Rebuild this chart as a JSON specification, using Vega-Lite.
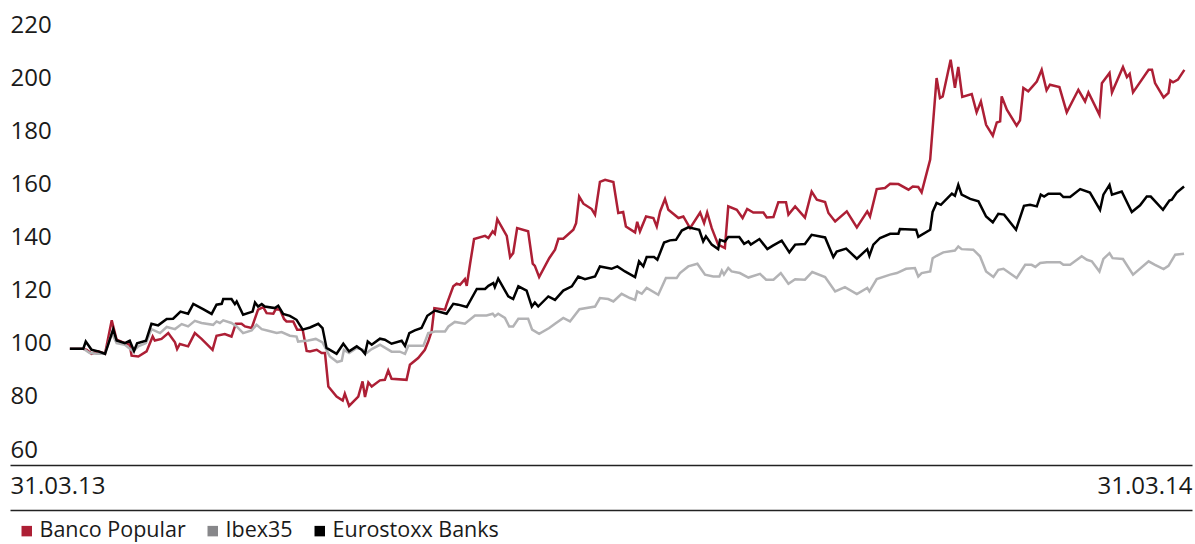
{
"$schema": "https://vega.github.io/schema/vega-lite/v6.json",
"width": 1182, "height": 425,
"autosize": "none",
"padding": {"left": 10, "top": 30, "right": 3, "bottom": 89},
"config": {"view": {"stroke": null}, "font": "Open Sans"},
"datasets": {
"bp": [{"day":0,"value":100},{"day":4.4,"value":100},{"day":5.5,"value":99.6},{"day":7.1,"value":98.1},{"day":9.3,"value":99.0},{"day":11.5,"value":98.1},{"day":13.7,"value":110.7},{"day":15.3,"value":103.4},{"day":18.0,"value":102.1},{"day":19.6,"value":101.5},{"day":20.2,"value":97.4},{"day":22.4,"value":97.1},{"day":25.1,"value":99.0},{"day":27.1,"value":104.6},{"day":27.8,"value":103.1},{"day":30.0,"value":103.7},{"day":32.2,"value":105.9},{"day":34.4,"value":102.4},{"day":35.1,"value":99.9},{"day":36.0,"value":101.8},{"day":38.7,"value":100.9},{"day":40.9,"value":105.9},{"day":43.1,"value":103.7},{"day":46.7,"value":99.6},{"day":48.0,"value":104.9},{"day":50.7,"value":105.5},{"day":52.9,"value":104.6},{"day":54.3,"value":109.4},{"day":56.2,"value":109.4},{"day":57.3,"value":108.4},{"day":59.5,"value":107.8},{"day":61.6,"value":114.7},{"day":63.3,"value":115.7},{"day":64.4,"value":113.4},{"day":66.6,"value":113.2},{"day":67.4,"value":114.9},{"day":68.8,"value":114.7},{"day":70.1,"value":111.2},{"day":70.9,"value":110.3},{"day":73.1,"value":110.3},{"day":74.4,"value":107.2},{"day":76.2,"value":107.2},{"day":77.5,"value":99.2},{"day":78.6,"value":99.0},{"day":80.8,"value":99.6},{"day":82.4,"value":98.4},{"day":83.5,"value":98.4},{"day":84.6,"value":85.8},{"day":87.3,"value":82.0},{"day":89.3,"value":80.5},{"day":90.0,"value":83.1},{"day":91.4,"value":78.5},{"day":94.4,"value":82.0},{"day":95.8,"value":87.7},{"day":96.6,"value":81.8},{"day":97.7,"value":87.3},{"day":98.8,"value":85.8},{"day":101.5,"value":88.1},{"day":103.1,"value":88.3},{"day":104.2,"value":91.8},{"day":105.3,"value":88.7},{"day":110.2,"value":88.3},{"day":111.3,"value":94.0},{"day":114.0,"value":96.5},{"day":116.2,"value":99.6},{"day":117.3,"value":102.7},{"day":118.4,"value":106.5},{"day":119.3,"value":115.3},{"day":122.8,"value":114.7},{"day":123.3,"value":116.6},{"day":125.5,"value":123.5},{"day":126.6,"value":124.5},{"day":127.7,"value":124.1},{"day":129.3,"value":126.2},{"day":129.9,"value":123.7},{"day":131.0,"value":132.0},{"day":132.3,"value":141.3},{"day":135.9,"value":142.5},{"day":137.0,"value":141.7},{"day":138.4,"value":144.2},{"day":139.1,"value":143.3},{"day":139.9,"value":148.8},{"day":143.0,"value":142.5},{"day":144.1,"value":134.5},{"day":145.1,"value":136.0},{"day":146.4,"value":145.4},{"day":150.0,"value":144.2},{"day":151.5,"value":132.0},{"day":152.2,"value":131.2},{"day":153.6,"value":127.0},{"day":156.9,"value":134.1},{"day":158.8,"value":137.3},{"day":159.9,"value":141.4},{"day":161.5,"value":141.4},{"day":164.8,"value":144.8},{"day":165.7,"value":147.3},{"day":166.7,"value":157.3},{"day":168.1,"value":154.6},{"day":170.8,"value":152.6},{"day":171.9,"value":150.5},{"day":173.5,"value":162.8},{"day":175.2,"value":163.6},{"day":177.9,"value":162.8},{"day":179.5,"value":151.1},{"day":181.1,"value":151.5},{"day":182.0,"value":146.0},{"day":185.0,"value":143.8},{"day":185.7,"value":147.8},{"day":186.6,"value":144.2},{"day":188.6,"value":149.8},{"day":191.0,"value":149.2},{"day":192.1,"value":146.0},{"day":193.2,"value":151.7},{"day":194.8,"value":156.4},{"day":195.9,"value":152.3},{"day":199.2,"value":149.2},{"day":200.8,"value":149.8},{"day":203.0,"value":145.4},{"day":206.3,"value":151.3},{"day":207.6,"value":147.3},{"day":208.6,"value":151.3},{"day":210.1,"value":145.4},{"day":212.2,"value":139.2},{"day":214.4,"value":137.9},{"day":215.5,"value":153.6},{"day":218.3,"value":152.3},{"day":220.2,"value":149.2},{"day":221.7,"value":152.6},{"day":223.7,"value":151.3},{"day":227.0,"value":151.3},{"day":228.1,"value":149.4},{"day":230.3,"value":149.6},{"day":231.9,"value":155.2},{"day":234.4,"value":155.2},{"day":235.2,"value":150.5},{"day":237.4,"value":153.6},{"day":240.6,"value":149.4},{"day":242.8,"value":159.2},{"day":244.5,"value":156.1},{"day":247.2,"value":155.2},{"day":248.3,"value":151.1},{"day":250.5,"value":147.9},{"day":254.3,"value":151.7},{"day":257.6,"value":145.7},{"day":261.0,"value":151.7},{"day":261.9,"value":149.8},{"day":264.1,"value":160.1},{"day":266.8,"value":160.5},{"day":268.5,"value":162.1},{"day":271.2,"value":162.0},{"day":274.5,"value":159.9},{"day":275.9,"value":161.1},{"day":277.7,"value":160.9},{"day":278.8,"value":158.9},{"day":281.6,"value":171.2},{"day":283.7,"value":201.9},{"day":284.8,"value":194.4},{"day":285.7,"value":195.0},{"day":288.3,"value":208.8},{"day":289.7,"value":198.2},{"day":290.8,"value":206.1},{"day":292.1,"value":194.8},{"day":295.2,"value":195.9},{"day":296.8,"value":189.0},{"day":298.2,"value":193.1},{"day":299.9,"value":184.3},{"day":302.1,"value":180.2},{"day":303.4,"value":185.2},{"day":304.5,"value":185.6},{"day":305.0,"value":195.0},{"day":306.7,"value":190.0},{"day":309.9,"value":184.0},{"day":311.0,"value":186.0},{"day":312.1,"value":198.2},{"day":313.7,"value":196.9},{"day":316.5,"value":200.6},{"day":318.1,"value":205.0},{"day":319.7,"value":197.3},{"day":320.8,"value":199.4},{"day":323.9,"value":198.5},{"day":326.3,"value":189.0},{"day":330.1,"value":197.5},{"day":332.3,"value":193.1},{"day":333.4,"value":196.5},{"day":337.0,"value":188.1},{"day":337.8,"value":200.0},{"day":340.3,"value":203.8},{"day":341.1,"value":196.5},{"day":344.7,"value":206.1},{"day":346.0,"value":202.3},{"day":346.9,"value":203.5},{"day":348.0,"value":196.5},{"day":353.1,"value":205.0},{"day":354.2,"value":205.0},{"day":355.2,"value":200.0},{"day":358.0,"value":194.6},{"day":359.6,"value":196.3},{"day":360.2,"value":201.0},{"day":361.1,"value":200.3},{"day":362.7,"value":201.3},{"day":364.8,"value":205.0}],
"ibex": [{"day":0,"value":100},{"day":4.4,"value":100},{"day":6.5,"value":98.4},{"day":8.7,"value":98.1},{"day":11.5,"value":98.1},{"day":13.7,"value":105.9},{"day":15.3,"value":102.1},{"day":18.0,"value":101.5},{"day":20.7,"value":99.0},{"day":22.4,"value":100.9},{"day":24.9,"value":102.1},{"day":26.7,"value":107.4},{"day":29.5,"value":105.9},{"day":31.7,"value":108.2},{"day":34.4,"value":107.4},{"day":36.6,"value":109.3},{"day":38.7,"value":108.4},{"day":40.9,"value":110.5},{"day":43.1,"value":109.7},{"day":46.9,"value":109.0},{"day":48.0,"value":110.3},{"day":49.1,"value":109.7},{"day":50.2,"value":110.7},{"day":52.9,"value":109.7},{"day":54.6,"value":108.4},{"day":56.7,"value":105.9},{"day":59.5,"value":106.9},{"day":61.1,"value":109.0},{"day":62.8,"value":107.4},{"day":64.9,"value":106.8},{"day":67.7,"value":105.9},{"day":69.3,"value":106.3},{"day":72.0,"value":104.9},{"day":74.2,"value":104.6},{"day":74.7,"value":102.7},{"day":78.0,"value":103.1},{"day":80.5,"value":103.7},{"day":82.7,"value":102.4},{"day":85.1,"value":97.1},{"day":87.5,"value":95.0},{"day":89.0,"value":95.5},{"day":89.7,"value":99.6},{"day":91.4,"value":98.4},{"day":93.9,"value":100.3},{"day":96.0,"value":99.6},{"day":97.1,"value":98.4},{"day":98.8,"value":99.9},{"day":101.5,"value":101.5},{"day":105.3,"value":98.9},{"day":108.0,"value":98.9},{"day":109.7,"value":98.1},{"day":110.8,"value":101.1},{"day":115.7,"value":101.1},{"day":117.3,"value":105.9},{"day":119.5,"value":106.5},{"day":122.8,"value":106.5},{"day":123.9,"value":108.4},{"day":126.0,"value":110.1},{"day":129.3,"value":109.4},{"day":132.6,"value":112.5},{"day":136.4,"value":112.5},{"day":138.4,"value":113.2},{"day":139.1,"value":112.2},{"day":140.2,"value":113.2},{"day":142.4,"value":111.6},{"day":143.8,"value":108.4},{"day":145.1,"value":108.4},{"day":146.8,"value":111.3},{"day":150.0,"value":111.3},{"day":151.3,"value":107.2},{"day":153.6,"value":105.6},{"day":156.9,"value":107.8},{"day":158.8,"value":109.4},{"day":161.5,"value":111.6},{"day":163.7,"value":110.3},{"day":166.8,"value":114.9},{"day":171.9,"value":115.9},{"day":173.5,"value":119.1},{"day":176.2,"value":118.7},{"day":177.9,"value":117.8},{"day":180.6,"value":120.7},{"day":183.3,"value":119.1},{"day":185.0,"value":118.4},{"day":185.7,"value":121.6},{"day":187.2,"value":120.7},{"day":188.8,"value":122.9},{"day":192.6,"value":120.3},{"day":195.1,"value":126.6},{"day":198.6,"value":126.6},{"day":199.7,"value":128.5},{"day":202.4,"value":131.0},{"day":205.4,"value":132.0},{"day":207.9,"value":127.9},{"day":210.6,"value":127.2},{"day":212.6,"value":127.2},{"day":213.4,"value":129.4},{"day":214.1,"value":127.9},{"day":215.5,"value":130.4},{"day":216.6,"value":129.1},{"day":219.3,"value":128.5},{"day":222.1,"value":126.8},{"day":225.9,"value":128.2},{"day":227.9,"value":126.0},{"day":230.3,"value":126.0},{"day":232.7,"value":128.5},{"day":235.2,"value":124.5},{"day":237.4,"value":126.2},{"day":240.6,"value":126.0},{"day":243.0,"value":128.9},{"day":247.2,"value":127.0},{"day":250.5,"value":121.6},{"day":253.7,"value":123.2},{"day":257.6,"value":120.6},{"day":261.0,"value":122.9},{"day":261.7,"value":121.6},{"day":264.1,"value":126.2},{"day":268.5,"value":127.9},{"day":270.7,"value":128.5},{"day":273.7,"value":130.1},{"day":276.6,"value":130.4},{"day":277.7,"value":127.2},{"day":278.8,"value":128.5},{"day":281.6,"value":129.1},{"day":282.4,"value":134.1},{"day":283.7,"value":135.0},{"day":285.9,"value":136.3},{"day":289.7,"value":137.0},{"day":290.8,"value":138.5},{"day":291.9,"value":137.5},{"day":295.7,"value":137.3},{"day":297.9,"value":134.8},{"day":299.9,"value":129.1},{"day":302.3,"value":127.0},{"day":303.9,"value":129.7},{"day":305.6,"value":130.1},{"day":309.9,"value":126.6},{"day":312.7,"value":131.6},{"day":314.8,"value":131.6},{"day":316.0,"value":130.8},{"day":317.6,"value":132.3},{"day":319.8,"value":132.6},{"day":324.1,"value":132.6},{"day":325.2,"value":131.6},{"day":327.4,"value":131.6},{"day":331.2,"value":134.8},{"day":332.9,"value":133.5},{"day":334.5,"value":132.9},{"day":337.0,"value":129.1},{"day":338.3,"value":133.8},{"day":340.3,"value":136.0},{"day":341.3,"value":134.1},{"day":344.7,"value":133.8},{"day":348.0,"value":127.9},{"day":353.1,"value":132.9},{"day":355.2,"value":131.6},{"day":358.0,"value":130.0},{"day":359.6,"value":131.2},{"day":361.8,"value":135.4},{"day":364.7,"value":135.8}],
"euro": [{"day":0,"value":100},{"day":4.4,"value":100},{"day":5.2,"value":102.7},{"day":7.1,"value":99.6},{"day":9.3,"value":99.0},{"day":11.5,"value":98.1},{"day":14.2,"value":107.4},{"day":15.3,"value":103.1},{"day":18.0,"value":102.1},{"day":19.6,"value":103.0},{"day":21.0,"value":99.2},{"day":22.0,"value":102.1},{"day":24.9,"value":103.0},{"day":26.7,"value":109.4},{"day":28.9,"value":108.8},{"day":31.7,"value":111.2},{"day":33.8,"value":111.3},{"day":36.2,"value":114.0},{"day":38.7,"value":113.2},{"day":40.4,"value":116.9},{"day":43.6,"value":114.9},{"day":46.4,"value":113.1},{"day":48.0,"value":116.6},{"day":49.7,"value":116.9},{"day":50.2,"value":118.7},{"day":52.9,"value":118.7},{"day":54.0,"value":116.8},{"day":54.6,"value":117.8},{"day":56.7,"value":112.8},{"day":59.8,"value":114.0},{"day":60.6,"value":117.4},{"day":61.6,"value":115.9},{"day":62.8,"value":116.8},{"day":63.8,"value":115.9},{"day":67.1,"value":115.3},{"day":68.2,"value":116.2},{"day":69.8,"value":113.1},{"day":72.0,"value":112.4},{"day":74.2,"value":110.9},{"day":76.2,"value":107.2},{"day":78.6,"value":108.0},{"day":81.3,"value":109.4},{"day":82.7,"value":107.8},{"day":84.0,"value":100.3},{"day":87.3,"value":98.1},{"day":89.5,"value":101.9},{"day":91.4,"value":99.0},{"day":93.9,"value":100.9},{"day":95.5,"value":99.6},{"day":96.6,"value":98.1},{"day":97.5,"value":102.7},{"day":98.8,"value":101.5},{"day":101.5,"value":103.8},{"day":103.1,"value":103.4},{"day":105.3,"value":101.9},{"day":108.6,"value":103.0},{"day":109.7,"value":101.1},{"day":111.1,"value":105.9},{"day":112.9,"value":106.9},{"day":115.1,"value":107.8},{"day":117.0,"value":112.4},{"day":119.5,"value":114.4},{"day":123.3,"value":113.2},{"day":125.5,"value":116.9},{"day":127.1,"value":116.6},{"day":129.9,"value":115.7},{"day":133.2,"value":122.5},{"day":135.9,"value":122.5},{"day":137.0,"value":123.7},{"day":138.6,"value":124.7},{"day":139.1,"value":123.2},{"day":140.2,"value":126.4},{"day":143.5,"value":119.7},{"day":145.1,"value":118.7},{"day":146.8,"value":123.5},{"day":149.5,"value":121.9},{"day":151.2,"value":115.9},{"day":152.2,"value":117.4},{"day":153.3,"value":115.9},{"day":156.6,"value":119.7},{"day":158.8,"value":118.4},{"day":161.5,"value":121.9},{"day":164.3,"value":123.5},{"day":166.4,"value":127.2},{"day":168.6,"value":126.2},{"day":171.9,"value":127.2},{"day":173.5,"value":131.0},{"day":177.3,"value":130.1},{"day":179.2,"value":131.0},{"day":181.7,"value":129.1},{"day":185.0,"value":127.0},{"day":186.3,"value":132.9},{"day":187.7,"value":131.0},{"day":188.8,"value":134.5},{"day":191.2,"value":134.5},{"day":192.3,"value":133.5},{"day":194.5,"value":140.0},{"day":196.4,"value":140.8},{"day":198.4,"value":141.0},{"day":200.3,"value":144.5},{"day":202.4,"value":145.7},{"day":206.0,"value":144.8},{"day":207.3,"value":140.4},{"day":208.2,"value":142.3},{"day":210.1,"value":139.2},{"day":212.2,"value":137.5},{"day":212.8,"value":141.0},{"day":214.4,"value":140.4},{"day":215.5,"value":142.1},{"day":219.1,"value":142.1},{"day":220.7,"value":139.5},{"day":222.1,"value":140.4},{"day":222.9,"value":139.2},{"day":225.7,"value":141.3},{"day":228.3,"value":137.5},{"day":230.1,"value":138.8},{"day":233.0,"value":140.7},{"day":235.5,"value":136.3},{"day":237.4,"value":139.2},{"day":240.6,"value":139.4},{"day":242.8,"value":142.9},{"day":247.2,"value":141.9},{"day":249.9,"value":134.5},{"day":251.0,"value":136.6},{"day":254.1,"value":137.7},{"day":257.6,"value":133.9},{"day":261.0,"value":137.5},{"day":261.7,"value":135.0},{"day":263.0,"value":139.2},{"day":265.2,"value":141.7},{"day":268.5,"value":143.3},{"day":271.2,"value":143.3},{"day":271.7,"value":145.1},{"day":277.0,"value":144.8},{"day":277.7,"value":142.1},{"day":281.6,"value":144.8},{"day":282.4,"value":151.5},{"day":283.7,"value":154.9},{"day":285.1,"value":154.2},{"day":288.7,"value":158.4},{"day":289.7,"value":157.6},{"day":290.8,"value":161.7},{"day":291.9,"value":158.0},{"day":294.7,"value":156.4},{"day":297.4,"value":155.5},{"day":299.9,"value":149.8},{"day":302.1,"value":147.6},{"day":303.9,"value":150.8},{"day":305.8,"value":150.5},{"day":309.7,"value":144.8},{"day":312.3,"value":153.8},{"day":314.3,"value":154.2},{"day":316.5,"value":153.6},{"day":317.8,"value":158.0},{"day":318.9,"value":157.3},{"day":320.3,"value":158.4},{"day":324.1,"value":158.4},{"day":325.2,"value":157.1},{"day":327.4,"value":157.1},{"day":330.7,"value":160.1},{"day":333.9,"value":158.8},{"day":337.2,"value":152.3},{"day":338.3,"value":158.0},{"day":340.3,"value":161.7},{"day":341.1,"value":158.0},{"day":344.3,"value":159.2},{"day":347.6,"value":151.5},{"day":350.3,"value":154.0},{"day":352.5,"value":157.3},{"day":353.8,"value":157.3},{"day":357.8,"value":152.3},{"day":359.9,"value":155.8},{"day":360.7,"value":156.1},{"day":362.3,"value":158.8},{"day":364.7,"value":161.1}]
},
"encoding": {
  "x": {"field": "day", "type": "quantitative",
        "scale": {"domain": [-19.6, 367.3], "nice": false, "zero": false},
        "axis": null},
  "y": {"field": "value", "type": "quantitative",
        "scale": {"domain": [60, 220], "nice": false, "zero": false},
        "axis": {"orient": "left", "values": [60, 80, 100, 120, 140, 160, 180, 200, 220], "labelAlign": "left", "labelBaseline": "middle", "labelPadding": 0, "labelOffset": -5, "labelFlush": false, "ticks": false, "tickSize": 0, "domain": false, "grid": false, "title": null, "labelFont": "Open Sans", "labelFontSize": 24, "labelColor": "#1a1a1a"}},
  "color": {"datum": "Banco Popular", "type": "nominal",
        "scale": {"domain": ["Banco Popular", "Ibex35", "Eurostoxx Banks"], "range": ["#ad1f35", "#b3b3b5", "#000000"]},
        "legend": {"orient": "none", "legendX": 6, "legendY": 490, "direction": "horizontal", "title": null,
                   "symbolType": "square", "symbolSize": 110, "symbolStrokeWidth": 0,
                   "labelFont": "Open Sans", "labelFontSize": 21.5, "labelColor": "#1a1a1a", "labelOffset": 2, "labelLimit": 600, "columnPadding": 16,
                   "encode": {"symbols": {"update": {"fill": {"signal": "datum.value === 'Ibex35' ? '#87878a' : scale('color', datum.value)"}, "stroke": {"value": "transparent"}, "strokeWidth": {"value": 0}}}}}}
},
"layer": [
  {"data": {"name": "bp"}, "mark": {"type": "line", "strokeWidth": 2.5},
   "encoding": {"x": {"field": "day", "type": "quantitative",
        "axis": {"values": [-19.6, 367.3], "labelExpr": "datum.value < 0 ? '31.03.13' : '31.03.14'", "labelFlush": true, "offset": 10, "ticks": false, "grid": false, "title": null, "domainColor": "#222222", "domainWidth": 1.5, "labelFont": "Open Sans", "labelFontSize": 24, "labelColor": "#1a1a1a", "labelPadding": 9}}}},
  {"data": {"name": "ibex"}, "mark": {"type": "line", "strokeWidth": 2.5},
   "encoding": {"color": {"datum": "Ibex35", "type": "nominal"}}},
  {"data": {"name": "euro"}, "mark": {"type": "line", "strokeWidth": 2.5},
   "encoding": {"color": {"datum": "Eurostoxx Banks", "type": "nominal"}}},
  {"data": {"name": "euro"}, "mark": {"type": "rule", "opacity": 0},
   "encoding": {"x": {"field": "day", "type": "quantitative",
        "axis": {"orient": "bottom", "offset": 55, "labels": false, "ticks": false, "grid": false, "title": null, "domainColor": "#222222", "domainWidth": 1.5}},
        "y": {"field": "value", "type": "quantitative"},
        "color": {"datum": "Eurostoxx Banks", "type": "nominal"}}}
],
"resolve": {"axis": {"x": "independent"}}
}
